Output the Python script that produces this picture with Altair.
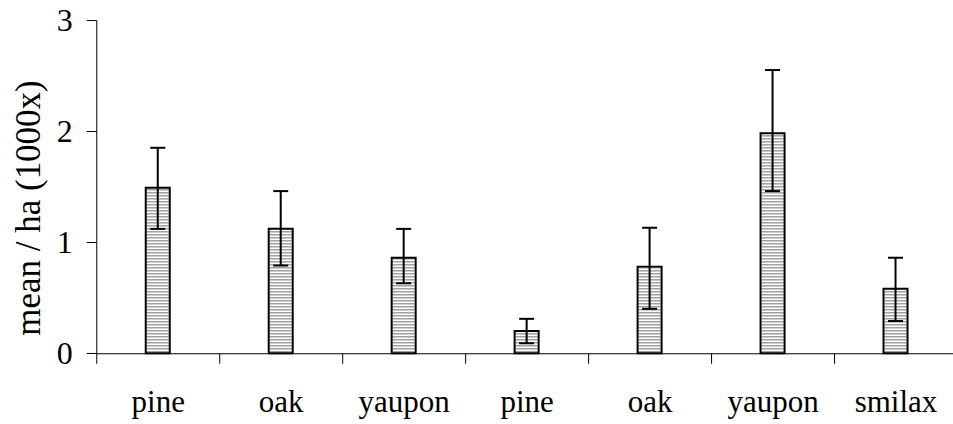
import altair as alt
import numpy as np
import pandas as pd

# Data
labels = ["pine", "oak", "yaupon", "pine", "oak", "yaupon", "smilax"]
keys = [f"c{i}" for i in range(len(labels))]
means = [1.49, 1.12, 0.86, 0.20, 0.78, 1.98, 0.58]
err_low = [1.12, 0.79, 0.63, 0.09, 0.40, 1.46, 0.29]
err_high = [1.85, 1.46, 1.12, 0.31, 1.13, 2.55, 0.86]

df = pd.DataFrame({"key": keys, "label": labels, "mean": means,
                   "lo": err_low, "hi": err_high})

# hatch texture rows (decoration: horizontal stripes inside each bar)
PX_PER_UNIT = 333.3 / 3.0
step = 3.0 / PX_PER_UNIT
stripe_rows = []
for k, m in zip(keys, means):
    for y in np.arange(step * 0.5, m - step * 0.3, step):
        stripe_rows.append({"key": k, "y": float(y)})
stripes = pd.DataFrame(stripe_rows)

label_map = "{" + ",".join(f"'{k}':'{l}'" for k, l in zip(keys, labels)) + "}"

FONT = "Liberation Serif"

xenc = alt.X("key:N", sort=keys,
             scale=alt.Scale(range=[0, 861], paddingInner=0, paddingOuter=0),
             axis=alt.Axis(title=None, labelExpr=f"{label_map}[datum.value]",
                           labelAngle=0, tickBand="extent", tickSize=10,
                           labelPadding=48.5, labelBaseline="alphabetic",
                           labelFont=FONT, labelFontSize=31, labelColor="black",
                           domainColor="black", tickColor="black",
                           domainWidth=1, tickWidth=1))
yscale = alt.Scale(domain=[0, 3], nice=False)
yaxis = alt.Axis(title="mean / ha (1000x)", values=[0, 1, 2, 3], format="d",
                 tickSize=10, labelPadding=14, labelFont=FONT, labelFontSize=32,
                 labelColor="black", titleFont=FONT, titleFontSize=35,
                 titleFontWeight="normal", titleColor="black",
                 titleX=-68, titleY=187.5, titleAngle=270,
                 titleAlign="center", titleBaseline="middle",
                 domainColor="black", tickColor="black", grid=False,
                 domainWidth=1, tickWidth=1)

base = alt.Chart(df)

bars_bg = base.mark_bar(size=24, fill="white", stroke=None).encode(
    x=xenc, y=alt.Y("mean:Q", scale=yscale, axis=yaxis))

stripe_layer = alt.Chart(stripes).mark_tick(
    size=22, thickness=1.5, color="#a0a0a0", opacity=1).encode(
    x=alt.X("key:N", sort=keys), y=alt.Y("y:Q"))

bars_outline = base.mark_bar(size=24, fill=None, fillOpacity=0,
                             stroke="black", strokeWidth=2).encode(
    x=alt.X("key:N", sort=keys), y=alt.Y("mean:Q"))

err = base.mark_rule(color="black", strokeWidth=2).encode(
    x=alt.X("key:N", sort=keys), y=alt.Y("lo:Q"), y2="hi:Q")

cap_hi = base.mark_tick(size=15, thickness=2, color="black", opacity=1).encode(
    x=alt.X("key:N", sort=keys), y=alt.Y("hi:Q"))
cap_lo = base.mark_tick(size=15, thickness=2, color="black", opacity=1).encode(
    x=alt.X("key:N", sort=keys), y=alt.Y("lo:Q"))

chart = alt.layer(bars_bg, stripe_layer, bars_outline, err, cap_hi, cap_lo).properties(
    width=857, height=333.3,
    autosize=alt.AutoSizeParams(type="none"),
    padding={"left": 96.3, "top": 20, "right": 0, "bottom": 70.7},
    background="white",
).configure_view(stroke=None)

chart.save("out.html", embed_options={"renderer": "svg", "actions": False})
